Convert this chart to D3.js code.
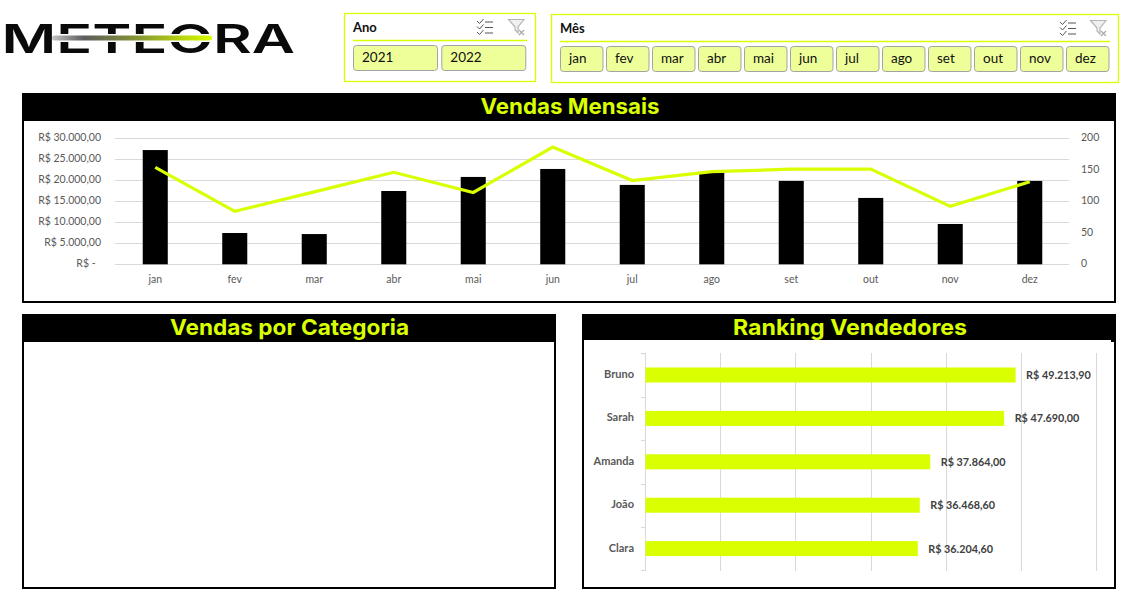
<!DOCTYPE html>
<html lang="pt-BR">
<head>
<meta charset="utf-8">
<title>Meteora</title>
<script src="https://cdn.jsdelivr.net/npm/d3@7"></script>
<style>
html,body{margin:0;padding:0;background:#fff;overflow:hidden}
svg{display:block}
text{font-family:Lato,"Open Sans",sans-serif}
.title{font-family:Inter,sans-serif;font-weight:700;font-size:22px;fill:#d9ff00;text-anchor:middle}
.axis path,.axis line{stroke:#d9d9d9}
.axis text{fill:#595959;font-size:10.5px;font-family:Lato,sans-serif}
.axis.names text{font-size:11px}
</style>
</head>
<body>
<div id="chart"></div>
<script>
const months = ["jan","fev","mar","abr","mai","jun","jul","ago","set","out","nov","dez"];
const years = ["2021","2022"];
const monthlySales = [27200,7450,7200,17450,20800,22700,18900,21800,19850,15800,9600,19850];
const monthlyCount = [154,84,115,146,114,186,133,147,151,151,92,131];
const salesTicks = [0,5000,10000,15000,20000,25000,30000];
const salesTickLabels = ["R$ -\u00a0\u00a0","R$ 5.000,00","R$ 10.000,00","R$ 15.000,00","R$ 20.000,00","R$ 25.000,00","R$ 30.000,00"];
const countTicks = [0,50,100,150,200];
const sellers = ["Bruno","Sarah","Amanda","João","Clara"];
const sellerSales = [49213.90,47690.00,37864.00,36468.60,36204.60];
const sellerLabels = ["R$ 49.213,90","R$ 47.690,00","R$ 37.864,00","R$ 36.468,60","R$ 36.204,60"];
const rankingTicks = [0,10000,20000,30000,40000,50000,60000];

const LIME = "#d9ff00", SOFT = "#eeff99";
const svg = d3.select("#chart").append("svg").attr("width",1134).attr("height",615);

/* ---------- logo ---------- */
const defs = svg.append("defs");
const grad = defs.append("linearGradient").attr("id","trail");
[[0,"#c4c4c4"],[.2,"#5c5c5c"],[.5,"#7f8f38"],[.8,"#b5d010"],[1,"#d9ff00"]].forEach(([o,c])=>
  grad.append("stop").attr("offset",o).attr("stop-color",c));
svg.append("text").attr("x",1.5).attr("y",52.5)
  .attr("textLength",293.5).attr("lengthAdjust","spacingAndGlyphs")
  .style("font-family","Inter,sans-serif").style("font-weight",600).style("font-size","40px")
  .attr("fill","#0a0a0a").text("METEORA");
svg.append("rect").attr("x",52).attr("y",34).attr("width",162).attr("height",8).attr("fill","#fff");
svg.append("rect").attr("x",52).attr("y",35.5).attr("width",160).attr("height",5).attr("rx",2.5).attr("fill","url(#trail)");

/* ---------- slicers ---------- */
function icons(g,x1,x2,y){
  const a=g.append("g").attr("transform",`translate(${x1},${y})`).attr("fill","none").attr("stroke","#555").attr("stroke-width",1);
  [2,7.5,13].forEach(d=>{
    a.append("path").attr("d",`M0 ${d}l2.5 2.5l4 -4.5`);
    a.append("path").attr("d",`M8 ${d+1}h8`);
  });
  const b=g.append("g").attr("transform",`translate(${x2},${y})`).attr("fill","none").attr("stroke","#b5b5b5").attr("stroke-width",1.2);
  b.append("path").attr("d","M0.5 0.5H16L10 8V14L7 11V8Z").attr("fill","#f0f0f0");
  b.append("path").attr("d","M11 11l5 5M16 11l-5 5").attr("stroke","#a8a8a8");
}
function slicer(box,title,items,btn){
  const g=svg.append("g");
  g.append("rect").attr("x",box.x+.5).attr("y",box.y+.5).attr("width",box.w).attr("height",box.h)
    .attr("fill","#fff").attr("stroke",LIME).attr("stroke-width",1.3);
  g.append("text").attr("x",btn.x).attr("y",box.y+19).attr("font-weight",700).attr("font-size",13).attr("fill","#111").text(title);
  g.append("line").attr("x1",btn.x).attr("x2",box.lineEnd).attr("y1",box.y+27.5).attr("y2",box.y+27.5).attr("stroke",LIME).attr("stroke-width",1.3);
  icons(g,box.ix1,box.ix2,box.y+6);
  const b=g.selectAll("g.btn").data(items).join("g").attr("class","btn")
    .attr("transform",(d,i)=>`translate(${btn.x+i*btn.step},${btn.y})`);
  b.append("rect").attr("x",.5).attr("y",.5).attr("width",btn.w).attr("height",btn.h).attr("rx",3)
    .attr("fill",SOFT).attr("stroke","#a3a3a3");
  b.append("text").attr("x",9).attr("y",btn.h/2+4).attr("font-size",13.5).attr("fill","#111").text(d=>d);
}
slicer({x:344,y:13,w:191,h:68,lineEnd:527,ix1:477,ix2:508},"Ano",years,{x:353,y:45,w:84,h:25,step:88.3});
slicer({x:551,y:14,w:567,h:68,lineEnd:1110,ix1:1060,ix2:1090},"Mês",months,{x:560,y:46,w:42.5,h:25,step:46});

/* ---------- panels ---------- */
function panel(x,y,w,h,hh,title,tx,len){
  svg.append("rect").attr("x",x+1).attr("y",y+1).attr("width",w-2).attr("height",h-2).attr("fill","#fff").attr("stroke","#000").attr("stroke-width",2);
  svg.append("rect").attr("x",x).attr("y",y).attr("width",w).attr("height",hh).attr("fill","#000");
  svg.append("text").attr("class","title").attr("x",tx).attr("y",y+21)
    .attr("textLength",len).attr("lengthAdjust","spacingAndGlyphs").text(title);
}
panel(22,93,1094,210,28,"Vendas Mensais",570,179);
panel(22,314,534,275,28,"Vendas por Categoria",289.5,239);
panel(582,314,534,275,26,"Ranking Vendedores",850,234);
svg.append("rect").attr("x",1111).attr("y",340).attr("width",5).attr("height",2).attr("fill","#000");

/* ---------- monthly combo chart ---------- */
const x = d3.scaleBand().domain(months).range([115.5,1069.5]).paddingInner(.685).paddingOuter(.3425);
const ySales = d3.scaleLinear().domain([0,30000]).range([264.3,138.3]);
const yCount = d3.scaleLinear().domain([0,200]).range([264.3,138.3]);

svg.append("g").selectAll("line").data(salesTicks).join("line")
  .attr("x1",115).attr("x2",1069).attr("y1",d=>Math.round(ySales(d))+.5).attr("y2",d=>Math.round(ySales(d))+.5)
  .attr("stroke","#d9d9d9");
svg.append("g").selectAll("rect").data(monthlySales).join("rect")
  .attr("x",(d,i)=>x(months[i])).attr("width",x.bandwidth())
  .attr("y",d=>ySales(d)).attr("height",d=>ySales(0)-ySales(d)).attr("fill","#000");
svg.append("path").datum(monthlyCount).attr("fill","none").attr("stroke",LIME).attr("stroke-width",3.2)
  .attr("d",d3.line().x((d,i)=>x(months[i])+x.bandwidth()/2).y(d=>yCount(d)));

const axL = svg.append("g").attr("class","axis").attr("transform","translate(101,-1)")
  .call(d3.axisLeft(ySales).tickValues(salesTicks).tickSize(0).tickPadding(0).tickFormat((d,i)=>salesTickLabels[i]));
axL.select(".domain").remove();
const axR = svg.append("g").attr("class","axis").attr("transform","translate(1081,-1)")
  .call(d3.axisRight(yCount).tickValues(countTicks).tickSize(0).tickPadding(0));
axR.select(".domain").remove();
const axB = svg.append("g").attr("class","axis").attr("transform","translate(0,275.5)")
  .call(d3.axisBottom(x).tickSize(0).tickPadding(0));
axB.select(".domain").remove();

/* ---------- ranking chart ---------- */
const rx = d3.scaleLinear().domain([0,60000]).range([645,1096.2]);
const ry = d3.scaleBand().domain(sellers).range([353.3,570.3]).paddingInner(.654).paddingOuter(.327);

svg.append("g").selectAll("line").data(rankingTicks).join("line")
  .attr("x1",d=>Math.round(rx(d))+.5).attr("x2",d=>Math.round(rx(d))+.5).attr("y1",353).attr("y2",571)
  .attr("stroke","#d9d9d9");
const step = ry.step();
svg.append("g").selectAll("line").data(d3.range(sellers.length+1)).join("line")
  .attr("x1",641).attr("x2",645.5)
  .attr("y1",i=>Math.round(353.3+i*step)+.5).attr("y2",i=>Math.round(353.3+i*step)+.5)
  .attr("stroke","#d9d9d9");
svg.append("g").selectAll("rect").data(sellerSales).join("rect")
  .attr("x",rx(0)+.5).attr("y",(d,i)=>ry(sellers[i])).attr("height",ry.bandwidth())
  .attr("width",d=>rx(d)-rx(0)).attr("fill",LIME);
const axS = svg.append("g").attr("class","axis names").attr("transform","translate(634,-.5)")
  .call(d3.axisLeft(ry).tickSize(0).tickPadding(0));
axS.select(".domain").remove();
axS.selectAll("text").attr("font-weight",700).style("font-weight",700);
svg.append("g").selectAll("text").data(sellerSales).join("text")
  .attr("x",d=>rx(d)+11).attr("y",(d,i)=>ry(sellers[i])+ry.bandwidth()/2+4)
  .attr("font-size",10.8).attr("font-weight",700).attr("fill","#404040").text((d,i)=>sellerLabels[i]);
</script>
</body>
</html>
